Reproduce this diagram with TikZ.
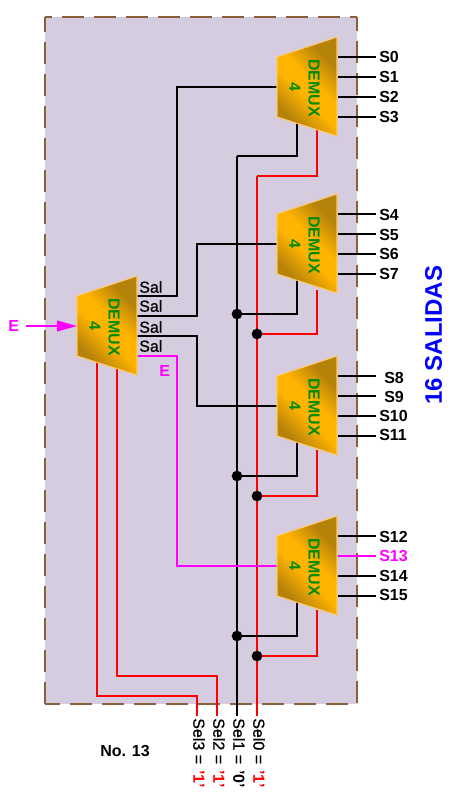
\documentclass[tikz,border=0pt]{standalone}
\usepackage{fontspec}
\usetikzlibrary{arrows.meta}
\setmainfont{Liberation Sans}
\newfontfamily\medfont{Liberation Sans}[FakeBold=0.8]
\definecolor{panel}{HTML}{D5CCDF}
\definecolor{dashbrown}{HTML}{8B5E3C}
\definecolor{wirered}{HTML}{FF0000}
\definecolor{mag}{HTML}{FF00FF}
\definecolor{demuxdark}{HTML}{B5820A}
\definecolor{demuxlight}{HTML}{FFB400}
\definecolor{demuxedge}{HTML}{FFC860}
\definecolor{demuxtext}{HTML}{008A00}
\pgfdeclareverticalshading{dmxgrad}{100bp}{color(0bp)=(demuxdark); color(33bp)=(demuxdark); color(46bp)=(demuxlight); color(54bp)=(demuxlight); color(67bp)=(demuxdark); color(100bp)=(demuxdark)}
\tikzset{
  x=0.75pt,y=-0.75pt,
  blackwire/.style={draw=black,line width=1.5pt,line join=miter},
  redwire/.style={draw=wirered,line width=1.5pt},
  magwire/.style={draw=mag,line width=1.5pt},
  dotnode/.style={circle,fill=black,inner sep=0pt,minimum size=8pt},
  borderline/.style={dashbrown,line width=1.5pt,dash pattern=on 16.5pt off 7.5pt},
  outlabel/.style={font=\fontsize{12}{14}\selectfont\bfseries,anchor=west,inner sep=0pt},
  sallabel/.style={font=\fontsize{12}{14}\selectfont\medfont,anchor=west,inner sep=0pt},
  dmxlabel/.style={font=\fontsize{12}{14}\selectfont\bfseries,text=demuxtext,rotate=-90,inner sep=0pt},
  sellabel/.style={font=\fontsize{12}{14}\selectfont\medfont,rotate=-90,anchor=west,inner sep=0pt},
}
\newcommand{\selval}[1]{{\normalfont\bfseries\char"2019 #1\char"2019}}
\newcommand{\dmxshape}[3]{% name, x of left edge, y of the top of the left edge
  \begin{scope}[shift={(#2,#3)}]
    \begin{scope}
      \clip (0,0) -- (60,-20) -- (60,79) -- (0,60) -- cycle;
      \shade[shading=dmxgrad,shading angle=-45]
        (-20,-20) rectangle (80,80);
    \end{scope}
    \draw[demuxedge,line width=0.8pt,line join=miter] (0,0) -- (60,-20) -- (60,79) -- (0,60) -- cycle;
    \coordinate (#1in) at (0,30);
    \coordinate (#1o0) at (61,0);
    \coordinate (#1o1) at (61,20);
    \coordinate (#1o2) at (61,40);
    \coordinate (#1o3) at (61,60);
    \node[dmxlabel] (#1name) at (37,31) {DEMUX};
    \node[dmxlabel] (#1size) at (18,30) {4};
  \end{scope}}
\begin{document}
\begin{tikzpicture}
\useasboundingbox (0,0) rectangle (454,800);
\fill[white] (0,0) rectangle (454,800);
\fill[panel] (45,17) rectangle (357,704);
\draw[borderline,dash phase=11.25pt] (45,17) -- (357,17);
\draw[borderline,dash phase=5.25pt] (45,17) -- (45,704);
\draw[borderline,dash phase=6pt] (357,17) -- (357,704);
\draw[borderline,dash phase=5.25pt] (45,704) -- (357,704);

% anchor points on the wires
\coordinate (d1a) at (297,117); \coordinate (d1b) at (317,130);
\coordinate (d2a) at (297,278); \coordinate (d2b) at (317,290);
\coordinate (d3a) at (297,440); \coordinate (d3b) at (317,450);
\coordinate (d4a) at (297,600); \coordinate (d4b) at (317,610);
\coordinate (m0) at (136,296); \coordinate (m1) at (136,316);
\coordinate (m2) at (136,336); \coordinate (m3) at (136,356);
\coordinate (d1i) at (277,87); \coordinate (d2i) at (277,244);
\coordinate (d3i) at (277,406); \coordinate (d4i) at (277,566);
\coordinate (ms3) at (97,360); \coordinate (ms2) at (117,365);
\coordinate (sel3) at (197,716); \coordinate (sel2) at (217,716);
\coordinate (sel1) at (237,716); \coordinate (sel0) at (257,716);
\coordinate (top1) at (237,156); \coordinate (top0) at (257,176);
\coordinate (ein) at (26,326); \coordinate (eend) at (77,326);
\coordinate (j1ac) at (237,314); \coordinate (j1bc) at (257,334);
\coordinate (j2ac) at (237,476); \coordinate (j2bc) at (257,496);
\coordinate (j3ac) at (237,636); \coordinate (j3bc) at (257,656);

% selector wires
\draw[blackwire] (top1) -- (sel1);
\draw[redwire] (top0) -- (sel0);
\draw[blackwire] (d1a) |- (top1);
\draw[redwire] (d1b) |- (top0);
\draw[blackwire] (d2a) |- (j1ac);
\draw[redwire] (d2b) |- (j1bc);
\draw[blackwire] (d3a) |- (j2ac);
\draw[redwire] (d3b) |- (j2bc);
\draw[blackwire] (d4a) |- (j3ac);
\draw[redwire] (d4b) |- (j3bc);
\draw[redwire] (ms3) |- (197,696) -- (sel3);
\draw[redwire] (ms2) |- (217,676) -- (sel2);

\node[dotnode] (j1a) at (j1ac) {};
\node[dotnode] (j1b) at (j1bc) {};
\node[dotnode] (j2a) at (j2ac) {};
\node[dotnode] (j2b) at (j2bc) {};
\node[dotnode] (j3a) at (j3ac) {};
\node[dotnode] (j3b) at (j3bc) {};

% data wires
\draw[blackwire] (m0) -| (177,296) |- (d1i);
\draw[blackwire] (m1) -| (197,316) |- (d2i);
\draw[blackwire] (m2) -| (197,336) |- (d3i);
\draw[magwire] (138,356) -| (177,356) |- (d4i);

% demultiplexers
\dmxshape{a}{277}{57}
\dmxshape{b}{277}{214}
\dmxshape{c}{277}{376}
\dmxshape{d}{277}{536}
\dmxshape{m}{77}{296}

% outputs
\foreach \nm/\yy/\lab/\xx in {s0/57/S0/379,s1/77/S1/379,s2/97/S2/379,s3/117/S3/379,
  s4/215/S4/379,s5/235/S5/379,s6/254/S6/379,s7/274/S7/379,
  s8/378/S8/384,s9/397/S9/384,s10/416/S10/379,s11/435/S11/379,
  s12/537/S12/379,s14/576/S14/379,s15/595/S15/379}{
  \node[outlabel] (\nm) at (\xx,\yy) {\lab};
}
\node[outlabel,text=mag] (s13) at (379,556) {S13};
\draw[blackwire] (ao0) -- (376,57);
\draw[blackwire] (ao1) -- (376,77);
\draw[blackwire] (ao2) -- (376,97);
\draw[blackwire] (ao3) -- (376,117);
\draw[blackwire] (bo0) -- (376,214);
\draw[blackwire] (bo1) -- (376,234);
\draw[blackwire] (bo2) -- (376,254);
\draw[blackwire] (bo3) -- (376,274);
\draw[blackwire] (co0) -- (376,376);
\draw[blackwire] (co1) -- (376,396);
\draw[blackwire] (co2) -- (376,416);
\draw[blackwire] (co3) -- (376,436);
\draw[blackwire] (do0) -- (376,536);
\draw[magwire] (do1) -- (376,556);
\draw[blackwire] (do2) -- (376,576);
\draw[blackwire] (do3) -- (376,596);

% input and labels
\draw[magwire,-{Triangle[length=15pt,width=8pt]}] (ein) -- (eend);
\node[outlabel,text=mag] (elab) at (8,326) {E};
\node[outlabel,text=mag] (elab2) at (159,371) {E};
\node[sallabel] (sal0) at (139,287) {Sal};
\node[sallabel] (sal1) at (139,306) {Sal};
\node[sallabel] (sal2) at (139,327) {Sal};
\node[sallabel] (sal3) at (139,346) {Sal};
\node[font=\fontsize{18}{20}\selectfont\bfseries,text=blue,rotate=90,inner sep=0pt] (title) at (433.5,335) {16 SALIDAS};
\node[font=\fontsize{12}{14}\selectfont\bfseries,inner sep=0pt] (no) at (125,751) {No. 13};
\node[sellabel] (l3) at (199,718) {Sel3 =\hspace{0.4em}\textcolor{wirered}{\selval{1}}};
\node[sellabel] (l2) at (219,718) {Sel2 =\hspace{0.4em}\textcolor{wirered}{\selval{1}}};
\node[sellabel] (l1) at (239,718) {Sel1 =\hspace{0.4em}\selval{0}};
\node[sellabel] (l0) at (259,718) {Sel0 =\hspace{0.4em}\textcolor{wirered}{\selval{1}}};
\end{tikzpicture}
\end{document}
